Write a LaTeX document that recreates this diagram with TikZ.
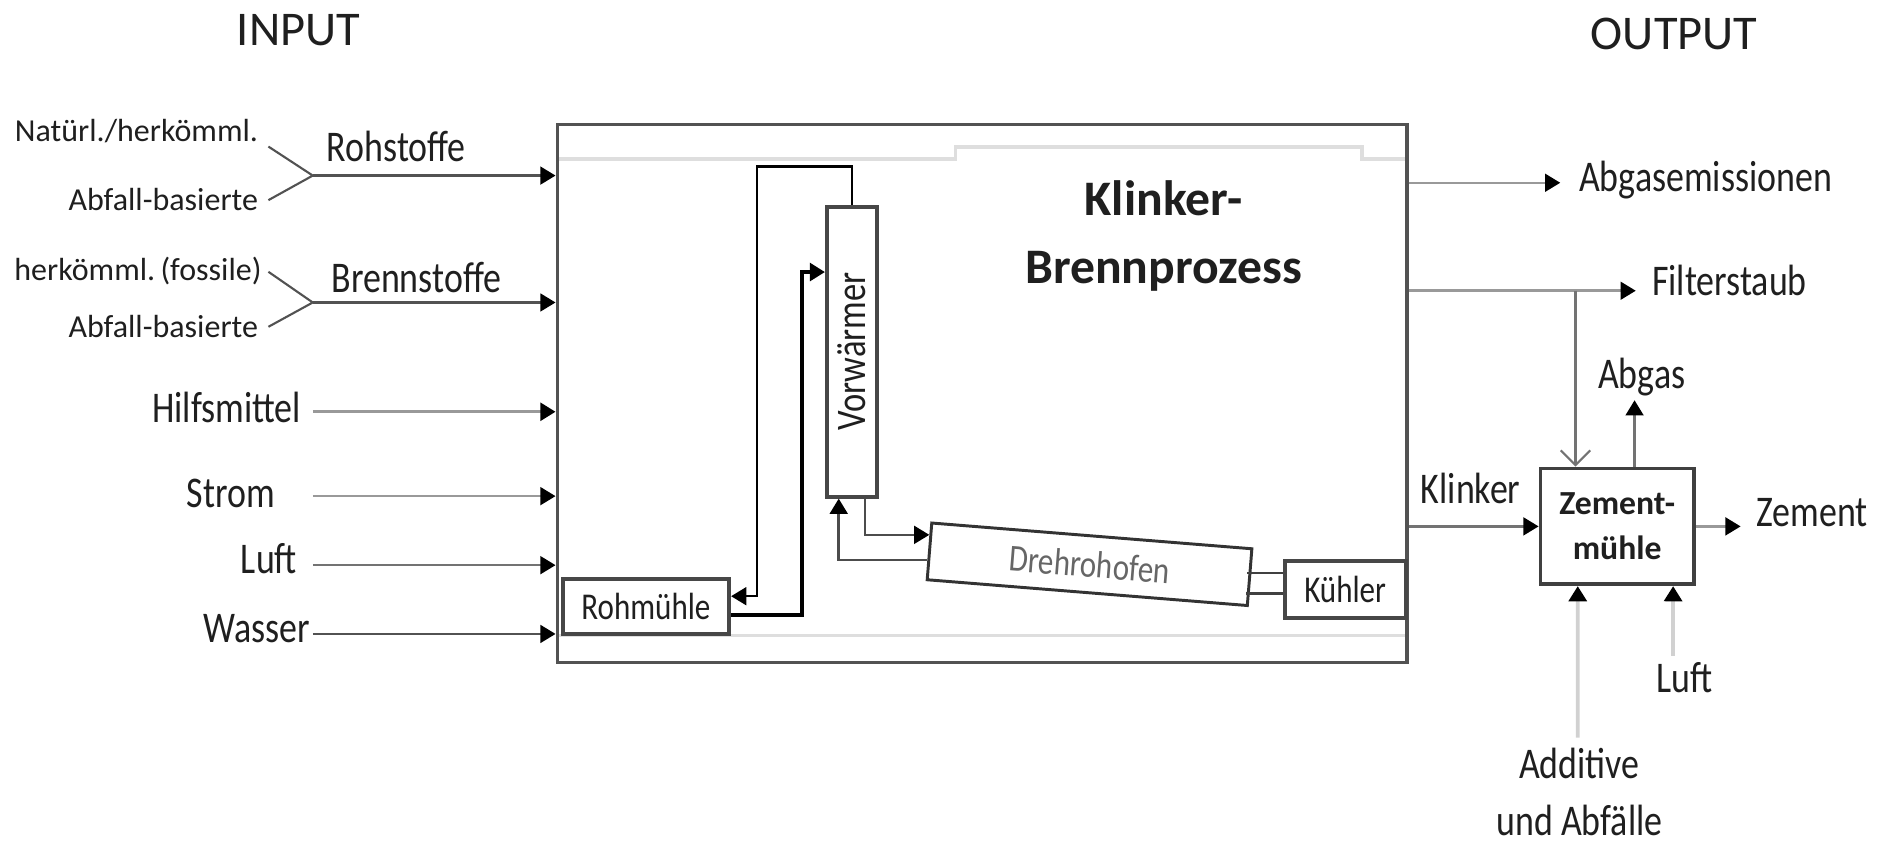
\documentclass[tikz,border=0pt]{standalone}
\usepackage{fontspec}
\setmainfont{Carlito}
\newfontfamily\schmal{Carlito}[FakeStretch=0.82]
\usetikzlibrary{arrows.meta,calc,positioning}

\colorlet{dunkel}{black!68}
\colorlet{grau}{black!40}
\colorlet{hell}{black!18}

\begin{document}
\begin{tikzpicture}[
  font=\schmal\fontsize{10.4}{12}\selectfont,
  txt/.style={inner sep=0pt, text=black!88},
  klein/.style={txt, font=\normalfont\fontsize{7.6}{9}\selectfont},
  kopf/.style={txt, font=\normalfont\fontsize{11.5}{14}\selectfont},
  zone/.style={rectangle, draw=dunkel, line width=0.8pt,
               minimum width=7.09cm, minimum height=4.49cm},
  anlage/.style={rectangle, draw=black!72, line width=0.9pt, inner sep=0pt,
                 text=black!88, font=\schmal\fontsize{9}{11}\selectfont},
  arr/.style={-{Triangle[length=3.6pt,width=4.2pt,color=black]}, line width=0.6pt}
]
\useasboundingbox (0,0) rectangle (15.68,-7.06);

% --- Ueberschriften ---
\node[kopf, anchor=base] (inp) at (2.49,-0.38) {INPUT};
\node[kopf, anchor=base] (outp) at (13.97,-0.41) {OUTPUT};

% --- Klinker-Brennprozess ---
\node[zone] (ofen) at (8.195,-3.285) {};
\draw[black!13, line width=0.8pt]
      ($(ofen.north west)+(0.03,-0.30)$) -- ++(3.31,0)
      |- ($(ofen.north west)+(6.73,-0.20)$) |- ($(ofen.north east)+(-0.03,-0.30)$);
\draw[black!13, line width=0.8pt]
      ($(ofen.south west)+(0.03,0.24)$) -- ($(ofen.south east)+(-0.03,0.24)$);
\node[txt, font=\normalfont\bfseries\fontsize{11.8}{16.2}\selectfont, align=center,
      anchor=base] (titel) at (9.71,-2.365) {Klinker-\\Brennprozess};

\node[anlage, minimum width=0.418cm, minimum height=2.42cm,
      label={[rotate=90, text=black!88, font=\schmal\fontsize{10}{12}\selectfont]center:Vorwärmer}]
      (vw) at (7.109,-2.935) {};
\node[anlage, minimum width=1.39cm, minimum height=0.46cm] (rm) at (5.39,-5.06) {Rohmühle};
\node[anlage, minimum width=1.01cm, minimum height=0.48cm] (kue) at (11.225,-4.92) {Kühler};
\node[anlage, draw=black!80, line width=0.7pt, rotate=-4.6, text=black!60,
      minimum width=2.68cm, minimum height=0.475cm] (dro) at (9.092,-4.7085) {Drehrohofen};

\draw[arr] (vw.north) |- (6.316,-1.39) |- ($(rm.east)+(0,0.085)$);
\draw[arr, line width=0.9pt] ($(rm.east)+(0,-0.075)$) -| (6.69,-2.27) -- ($(vw.west)+(0,0.665)$);
\draw[arr, black!70] ($(vw.south)+(0.11,0)$) |- ($(dro.north west)!0.45!(dro.west)$);
\draw[arr, black!70] ($(dro.west)!0.3!(dro.south west)$) -| ($(vw.south)+(-0.11,0)$);
\draw[black!75, line width=0.6pt] ($(kue.west)+(0,0.14)$) -- ++(-0.30,0);
\draw[black!75, line width=0.6pt] ($(kue.west)+(0,-0.033)$) -- ++(-0.31,0);

% --- Input ---
\node[klein, anchor=base east] (nat) at (2.16,-1.183) {Natürl./herkömml.};
\node[klein, anchor=base east] (abf1) at (2.16,-1.753) {Abfall-basierte};
\node[txt, anchor=base west] (roh) at (2.72,-1.344) {Rohstoffe};
\coordinate (rohJ) at (2.61,-1.465);
\draw[dunkel, line width=0.5pt] ($(nat.base east)+(0.08,-0.04)$) -- (rohJ)
      -- ($(abf1.base east)+(0.08,0.083)$);
\draw[arr, dunkel] (rohJ) -- (rohJ -| ofen.west);

\node[klein, anchor=base east] (herk) at (2.19,-2.337) {herkömml.\,(fossile)};
\node[klein, anchor=base east] (abf2) at (2.16,-2.816) {Abfall-basierte};
\node[txt, anchor=base west] (bre) at (2.76,-2.443) {Brennstoffe};
\coordinate (breJ) at (2.61,-2.524);
\draw[dunkel, line width=0.5pt] ($(herk.base east)+(0.05,0.069)$) -- (breJ)
      -- ($(abf2.base east)+(0.08,0.089)$);
\draw[arr, dunkel] (breJ) -- (breJ -| ofen.west);

\node[txt, anchor=base east] (hilf) at (2.52,-3.528) {Hilfsmittel};
\coordinate (hilfA) at (2.61,-3.436);
\draw[arr, grau, line width=0.8pt] (hilfA) -- (hilfA -| ofen.west);

\node[txt, anchor=base east] (strom) at (2.30,-4.235) {Strom};
\coordinate (stromA) at (2.61,-4.14);
\draw[arr, grau] (stromA) -- (stromA -| ofen.west);

\node[txt, anchor=base east] (luft) at (2.486,-4.786) {Luft};
\coordinate (luftA) at (2.61,-4.716);
\draw[arr, black!55] (luftA) -- (luftA -| ofen.west);

\node[txt, anchor=base east] (wasser) at (2.594,-5.365) {Wasser};
\coordinate (wasA) at (2.61,-5.29);
\draw[arr, dunkel] (wasA) -- (wasA -| ofen.west);

% --- Output ---
\node[txt, anchor=base west] (abgE) at (13.17,-1.60) {Abgasemissionen};
\coordinate (abgT) at (13.02,-1.525);
\draw[arr, grau] (ofen.east |- abgT) -- (abgT);

\node[txt, anchor=base west] (filt) at (13.78,-2.468) {Filterstaub};
\coordinate (filtT) at (13.65,-2.426);
\draw[arr, grau] (ofen.east |- filtT) -- (filtT);

\node[rectangle, draw=black!75, line width=0.9pt, align=center, text=black!88,
      font=\normalfont\bfseries\fontsize{8}{10.8}\selectfont,
      minimum width=1.28cm, minimum height=0.965cm] (zm) at (13.495,-4.3925) {Zement-\\mühle};

\coordinate (zweig) at ($(zm.north)+(-0.348,0)$);
\draw[-{Straight Barb[length=3.5pt,width=7pt]}, black!55, line width=0.5pt] (zweig |- filtT) -- (zweig);

\node[txt, anchor=base] (abgas) at (13.70,-3.24) {Abgas};
\coordinate (abgFuss) at ($(zm.north)+(0.145,0)$);
\draw[arr, black!55] (abgFuss) -- ($(abgFuss |- abgas.south)+(0,-0.03)$);

\node[txt, anchor=base west] (klink) at (11.85,-4.20) {Klinker};
\draw[arr, black!55] (ofen.east |- zm.west) -- (zm.west);

\node[txt, anchor=base west] (zem) at (14.65,-4.396) {Zement};
\draw[arr, grau] (zm.east) -- ($(zm.east -| zem.west)+(-0.125,0)$);

\node[txt, anchor=base] (luftR) at (14.06,-5.78) {Luft};
\draw[arr, hell, line width=0.9pt] ($(luftR.north)+(-0.1,0.05)$) -- ($(zm.south)+(0.467,0)$);

\node[txt, anchor=base, align=center, font=\schmal\fontsize{10.4}{13.5}\selectfont]
      (add) at (13.18,-6.97) {Additive\\und Abfälle};
\draw[arr, hell, line width=0.9pt] ($(add.north)+(-0.014,0.08)$) -- ($(zm.south)+(-0.329,0)$);

\end{tikzpicture}
\end{document}
